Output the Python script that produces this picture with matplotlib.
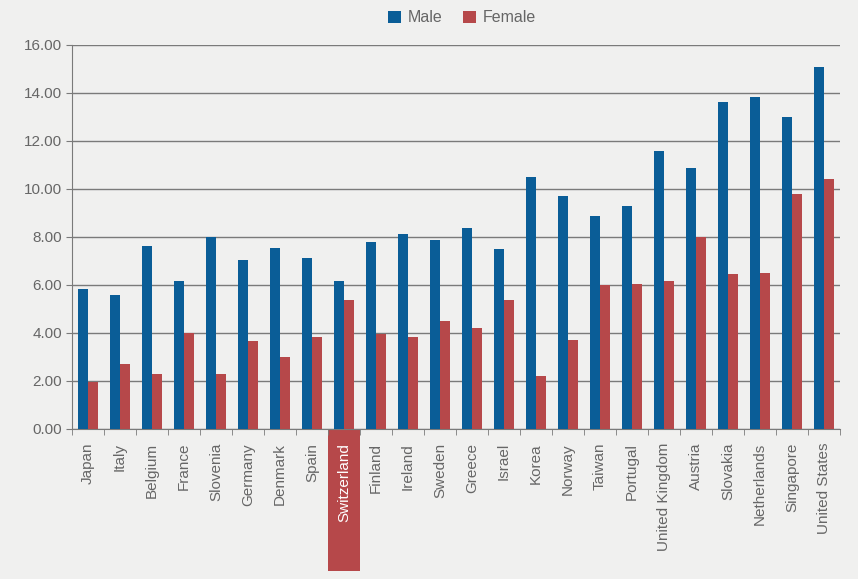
import matplotlib
matplotlib.use("Agg")
import matplotlib.pyplot as plt
import matplotlib.transforms as mtransforms
from matplotlib.patches import Rectangle
import numpy as np

countries = ["Japan", "Italy", "Belgium", "France", "Slovenia", "Germany", "Denmark",
             "Spain", "Switzerland", "Finland", "Ireland", "Sweden", "Greece", "Israel",
             "Korea", "Norway", "Taiwan", "Portugal", "United Kingdom", "Austria",
             "Slovakia", "Netherlands", "Singapore", "United States"]
male = [5.83, 5.58, 7.63, 6.17, 7.99, 7.04, 7.54, 7.13, 6.17, 7.79, 8.13, 7.88, 8.38,
        7.50, 10.51, 9.71, 8.88, 9.29, 11.58, 10.88, 13.63, 13.83, 13.00, 15.08]
female = [1.97, 2.71, 2.29, 3.99, 2.29, 3.67, 3.00, 3.83, 5.38, 3.96, 3.83, 4.50, 4.21,
          5.38, 2.21, 3.71, 5.99, 6.04, 6.17, 7.99, 6.46, 6.50, 9.79, 10.42]
yticks = [0, 2, 4, 6, 8, 10, 12, 14, 16]
highlight = "Switzerland"

BLUE = "#0a5d97"
RED = "#b6484a"
BG = "#f0f0ef"
TXT = "#666666"
GRID = "#7a7a7a"

plt.rcParams['font.family'] = ['Liberation Sans', 'DejaVu Sans']

fig = plt.figure(figsize=(8.58, 5.79), dpi=100, facecolor=BG)
ax = fig.add_axes([72/858, 1-429/579, (840-72)/858, (429-45)/579])
ax.set_facecolor(BG)

x = np.arange(len(countries))
w = 0.31
ax.bar(x - w/2, male, width=w, color=BLUE, label="Male", zorder=3)
ax.bar(x + w/2, female, width=w, color=RED, label="Female", zorder=3)

ax.set_xlim(-0.5, len(countries) - 0.5)
ax.set_ylim(0, 16)
ax.set_yticks(yticks)
ax.set_yticklabels([f"{v:.2f}" for v in yticks], color=TXT, fontsize=11)
ax.yaxis.grid(True, color=GRID, linewidth=1.0, zorder=0)
ax.tick_params(axis='y', length=4, color=GRID, pad=3)

ax.set_xticks(x)
ax.set_xticklabels(countries, rotation=90, color=TXT, fontsize=11)
ax.tick_params(axis='x', which='major', length=0, pad=10)
ax.set_xticks(np.arange(-0.5, len(countries), 1), minor=True)
ax.tick_params(axis='x', which='minor', length=4, color=GRID, direction='out')

for s in ["top", "right"]:
    ax.spines[s].set_visible(False)
ax.spines["left"].set_color(GRID)
ax.spines["bottom"].set_color(GRID)

# highlight box
idx = countries.index(highlight)
trans = mtransforms.blended_transform_factory(ax.transData, ax.transAxes)
rect = Rectangle((idx - 0.5, 0), 1.0, -(571-429)/384, transform=trans,
                 facecolor=RED, edgecolor='none', clip_on=False, zorder=1)
ax.add_patch(rect)
for lbl in ax.get_xticklabels():
    if lbl.get_text() == highlight:
        lbl.set_color("white")
        lbl.set_zorder(5)

leg = fig.legend(loc='center', bbox_to_anchor=(462/858, 1-18/579), ncol=2,
                 frameon=False, fontsize=11.5, handlelength=0.8, handleheight=0.8,
                 handletextpad=0.4, columnspacing=1.3, labelcolor=TXT)

fig.savefig("out.png", dpi=100, facecolor=BG)
